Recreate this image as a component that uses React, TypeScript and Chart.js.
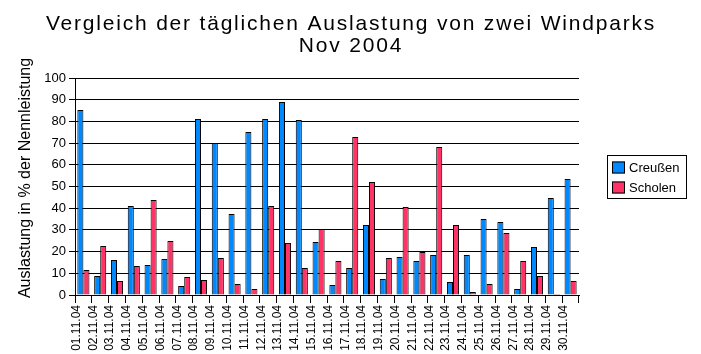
import React, { useEffect, useRef } from "react";
import { Chart, registerables } from "chart.js";

Chart.register(...registerables);

const TITLE_LINES = ["Vergleich der täglichen Auslastung von zwei Windparks", "Nov 2004"];
const Y_TITLE = "Auslastung in % der Nennleistung";
const SERIES_NAMES = ["Creußen", "Scholen"];
const COLORS = ["#0088ff", "#ff3366"];

const days = [
  "01.11.04", "02.11.04", "03.11.04", "04.11.04", "05.11.04", "06.11.04",
  "07.11.04", "08.11.04", "09.11.04", "10.11.04", "11.11.04", "12.11.04",
  "13.11.04", "14.11.04", "15.11.04", "16.11.04", "17.11.04", "18.11.04",
  "19.11.04", "20.11.04", "21.11.04", "22.11.04", "23.11.04", "24.11.04",
  "25.11.04", "26.11.04", "27.11.04", "28.11.04", "29.11.04", "30.11.04",
];

const creussen = [
  85.2, 8.8, 16.1, 41, 13.8, 16.6, 4.1, 81.1, 70, 37.3,
  75.1, 81.1, 88.9, 80.6, 24.4, 4.6, 12.4, 32.3, 7.4, 17.5,
  15.7, 18.4, 6, 18.4, 35, 33.6, 2.8, 22.1, 44.7, 53.5,
];

const scholen = [
  11.5, 22.6, 6.4, 13.4, 43.8, 24.9, 8.3, 6.9, 17, 5.1,
  2.8, 41, 24, 12.4, 30.4, 15.7, 72.8, 52.1, 17, 40.6,
  19.8, 68.2, 32.3, 1.4, 5.1, 28.6, 15.7, 8.8, 0.5, 6.4,
];

const FONT = "'Liberation Sans', Arial, sans-serif";

const decorPlugin = {
  id: "decor",
  afterDraw(chart: any) {
    const ctx = chart.ctx as CanvasRenderingContext2D;
    ctx.save();
    // Title
    ctx.fillStyle = "#000";
    ctx.font = `21px ${FONT}`;
    ctx.textAlign = "center";
    ctx.textBaseline = "alphabetic";
    try { (ctx as any).letterSpacing = "1.8px"; } catch (e) {}
    ctx.fillText(TITLE_LINES[0], 351, 30);
    ctx.fillText(TITLE_LINES[1], 351, 52);
    try { (ctx as any).letterSpacing = "0px"; } catch (e) {}

    // Y axis title
    ctx.save();
    ctx.translate(26, 178);
    ctx.rotate(-Math.PI / 2);
    ctx.font = `16px ${FONT}`;
    ctx.textAlign = "center";
    ctx.textBaseline = "middle";
    ctx.fillText(Y_TITLE, 0, 0);
    ctx.restore();

    // Legend
    ctx.strokeStyle = "#000";
    ctx.lineWidth = 1;
    ctx.strokeRect(607.5, 155.5, 79, 43);
    ctx.font = `13px ${FONT}`;
    ctx.textAlign = "left";
    ctx.textBaseline = "middle";
    const rows = [167.5, 187.5];
    SERIES_NAMES.forEach((name, i) => {
      const y = rows[i];
      ctx.fillStyle = COLORS[i];
      ctx.fillRect(612, y - 6, 13, 12);
      ctx.strokeRect(612.5, y - 5.5, 12, 11);
      ctx.fillStyle = "#000";
      ctx.fillText(name, 629, y + 0.5);
    });
    ctx.restore();
  },
};

export default function App() {
  const ref = useRef<HTMLCanvasElement | null>(null);

  useEffect(() => {
    document.body.style.margin = "0";
    const canvas = ref.current;
    if (!canvas) return;
    const chart = new Chart(canvas, {
      type: "bar",
      data: {
        labels: days,
        datasets: [
          {
            label: SERIES_NAMES[0],
            data: creussen,
            backgroundColor: COLORS[0],
            borderColor: "#000",
            borderWidth: 1,
            categoryPercentage: 0.72,
            barPercentage: 1.0,
          },
          {
            label: SERIES_NAMES[1],
            data: scholen,
            backgroundColor: COLORS[1],
            borderColor: "#000",
            borderWidth: 1,
            categoryPercentage: 0.72,
            barPercentage: 1.0,
          },
        ],
      },
      options: {
        animation: false,
        responsive: false,
        devicePixelRatio: 1,
        layout: { padding: { left: 0, top: 78, right: 122, bottom: 0 } },
        plugins: {
          legend: { display: false },
          title: { display: false },
          tooltip: { enabled: false },
        },
        scales: {
          x: {
            grid: {
              display: true,
              drawOnChartArea: false,
              drawTicks: true,
              tickLength: 8,
              color: "#000",
              lineWidth: 1,
              offset: true,
            },
            border: { display: true, color: "#000", width: 1 },
            ticks: {
              autoSkip: false,
              minRotation: 90,
              maxRotation: 90,
              labelOffset: -7,
              padding: 2,
              color: "#000",
              font: { family: FONT, size: 12 },
            },
            afterFit(scale: any) {
              scale.height = 59;
            },
          },
          y: {
            min: 0,
            max: 100,
            ticks: {
              stepSize: 10,
              color: "#000",
              padding: 3,
              font: { family: FONT, size: 13 },
            },
            grid: {
              color: "#000",
              lineWidth: 1,
              drawTicks: true,
              tickLength: 6,
            },
            border: { display: true, color: "#000", width: 1 },
            title: { display: false },
            afterFit(scale: any) {
              scale.width = 75;
            },
          },
        },
      },
      plugins: [decorPlugin],
    });
    return () => chart.destroy();
  }, []);

  return (
    <div style={{ width: 701, height: 354, background: "#fff" }}>
      <canvas ref={ref} width={701} height={354} style={{ display: "block" }} />
    </div>
  );
}
